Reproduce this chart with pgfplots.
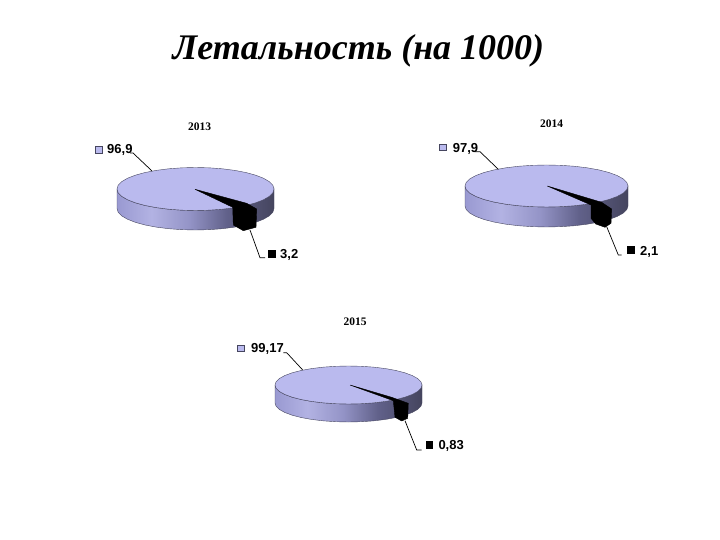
\documentclass[border=0pt]{standalone}
\usepackage{fontspec}
\setmainfont{Liberation Serif}
\newfontfamily\lab{Liberation Sans}
\usepackage{pgfplots}
\usepackage{pgfplotstable}
\pgfplotsset{compat=1.18}
\definecolor{pietop}{RGB}{186,186,238}
\definecolor{pieline}{RGB}{70,70,95}
\pgfdeclarehorizontalshading{piewall}{100bp}{
  rgb(0bp)=(0.60,0.60,0.82);
  rgb(25bp)=(0.60,0.60,0.82);
  rgb(36bp)=(0.70,0.70,0.89);
  rgb(48bp)=(0.58,0.58,0.78);
  rgb(60bp)=(0.38,0.38,0.54);
  rgb(75bp)=(0.27,0.27,0.37);
  rgb(100bp)=(0.27,0.27,0.37)}

% unit ellipse, y downwards
\pgfplotstableread{
x y
-1 0
-0.985 0.174
-0.940 0.342
-0.866 0.5
-0.766 0.643
-0.643 0.766
-0.5 0.866
-0.342 0.940
-0.174 0.985
0 1
0.174 0.985
0.342 0.940
0.5 0.866
0.643 0.766
0.766 0.643
0.866 0.5
0.940 0.342
0.985 0.174
1 0
0.985 -0.174
0.940 -0.342
0.866 -0.5
0.766 -0.643
0.643 -0.766
0.5 -0.866
0.342 -0.940
0.174 -0.985
0 -1
-0.174 -0.985
-0.342 -0.940
-0.5 -0.866
-0.643 -0.766
-0.766 -0.643
-0.866 -0.5
-0.940 -0.342
-0.985 -0.174
-1 0
}\toptab
% front wall: lower arc, then the same arc pushed down by the depth
\pgfplotstableread{
x y d
-1 0 0
-0.985 0.174 0
-0.940 0.342 0
-0.866 0.5 0
-0.766 0.643 0
-0.643 0.766 0
-0.5 0.866 0
-0.342 0.940 0
-0.174 0.985 0
0 1 0
0.174 0.985 0
0.342 0.940 0
0.5 0.866 0
0.643 0.766 0
0.766 0.643 0
0.866 0.5 0
0.940 0.342 0
0.985 0.174 0
1 0 0
1 0 1
0.985 0.174 1
0.940 0.342 1
0.866 0.5 1
0.766 0.643 1
0.643 0.766 1
0.5 0.866 1
0.342 0.940 1
0.174 0.985 1
0 1 1
-0.174 0.985 1
-0.342 0.940 1
-0.5 0.866 1
-0.643 0.766 1
-0.766 0.643 1
-0.866 0.5 1
-0.940 0.342 1
-0.985 0.174 1
-1 0 1
-1 0 0
}\walltab

% cx cy rx ry depth
\newcommand{\piedisc}[5]{
  \addplot[draw=pieline,line width=0.4pt,shade,shading=piewall] table[x expr=\thisrow{x}*#3+#1,y expr=\thisrow{y}*#4+#2+\thisrow{d}*#5] {\walltab};
  \addplot[draw=pieline,line width=0.4pt,fill=pietop] table[x expr=\thisrow{x}*#3+#1,y expr=\thisrow{y}*#4+#2] {\toptab};
}
\newcommand{\lbl}[3]{\node[anchor=west,inner sep=0pt,font=\lab\fontsize{13}{14}\selectfont\bfseries] at (axis cs:#1,#2) {#3};}
\newcommand{\yr}[3]{\node[inner sep=0pt,font=\fontsize{11.5}{13}\selectfont\bfseries] at (axis cs:#1,#2) {#3};}

\begin{document}
\begin{tikzpicture}
% hide axis leaves the axis box out of the bounding box
\useasboundingbox (0,0) rectangle (720pt,540pt);
\begin{axis}[
  at={(0,0)}, anchor=south west,
  width=720pt, height=540pt, scale only axis,
  xmin=0, xmax=720, ymin=0, ymax=540, y dir=reverse,
  hide axis, clip=false]

% 2013
\piedisc{195.5}{189}{78.5}{21.5}{19.5}
\addplot[fill=black,draw=black] coordinates {(195,189.3)(246.7,203.3)(256.7,209)(256,227.3)(243.3,230.7)(233.3,225)(232.7,207.3)(195,189.3)};
\addplot[black,line width=0.7pt] coordinates {(152,171)(133,153)(130,153)};
\addplot[black,line width=0.7pt] coordinates {(250,230)(260,257.7)(265,257.7)};
\addplot[only marks,mark=square*,mark size=3.3pt,mark options={fill=pietop,draw=pieline}] coordinates {(98.5,149.5)};
\addplot[only marks,mark=square*,mark size=3.3pt,mark options={fill=black,draw=black}] coordinates {(271.7,253.5)};

% 2014
\piedisc{546.5}{186}{81.5}{21}{20}
\addplot[fill=black,draw=black] coordinates {(547.3,186)(601.7,202.3)(611.7,209)(611,223.3)(605,227.3)(595.7,224)(591,218.3)(591,205)(547.3,186)};
\addplot[black,line width=0.7pt] coordinates {(498.3,169.3)(480,151.7)(475,151.7)};
\addplot[black,line width=0.7pt] coordinates {(606.7,226.7)(618.3,255)(621.7,255)};
\addplot[only marks,mark=square*,mark size=3.3pt,mark options={fill=pietop,draw=pieline}] coordinates {(442.7,147.3)};
\addplot[only marks,mark=square*,mark size=3.3pt,mark options={fill=black,draw=black}] coordinates {(630.7,250)};

% 2015
\piedisc{348.5}{385}{73.5}{19}{18}
\addplot[fill=black,draw=black] coordinates {(350,385)(391.7,397.3)(408.3,403.3)(407.7,418.3)(401.7,421)(395,417.3)(393.3,400.7)(350,385)};
\addplot[black,line width=0.7pt] coordinates {(302.7,370)(286.7,352.7)(283.3,352.7)};
\addplot[black,line width=0.7pt] coordinates {(405,420.7)(416.7,450)(421.7,450)};
\addplot[only marks,mark=square*,mark size=3.3pt,mark options={fill=pietop,draw=pieline}] coordinates {(240.7,348.3)};
\addplot[only marks,mark=square*,mark size=3.3pt,mark options={fill=black,draw=black}] coordinates {(429,444.7)};

\node[font=\fontsize{36}{38}\selectfont\bfseries\itshape,inner sep=0pt] at (axis cs:358.5,51) {Летальность (на 1000)};
\yr{199.5}{126.7}{2013}
\yr{551.7}{123.3}{2014}
\yr{355}{322}{2015}
\lbl{107}{150}{96,9}
\lbl{280}{255.2}{3,2}
\lbl{452.7}{148.5}{97,9}
\lbl{640}{251.5}{2,1}
\lbl{251}{349}{99,17}
\lbl{438.3}{446}{0,83}
\end{axis}
\end{tikzpicture}
\end{document}
